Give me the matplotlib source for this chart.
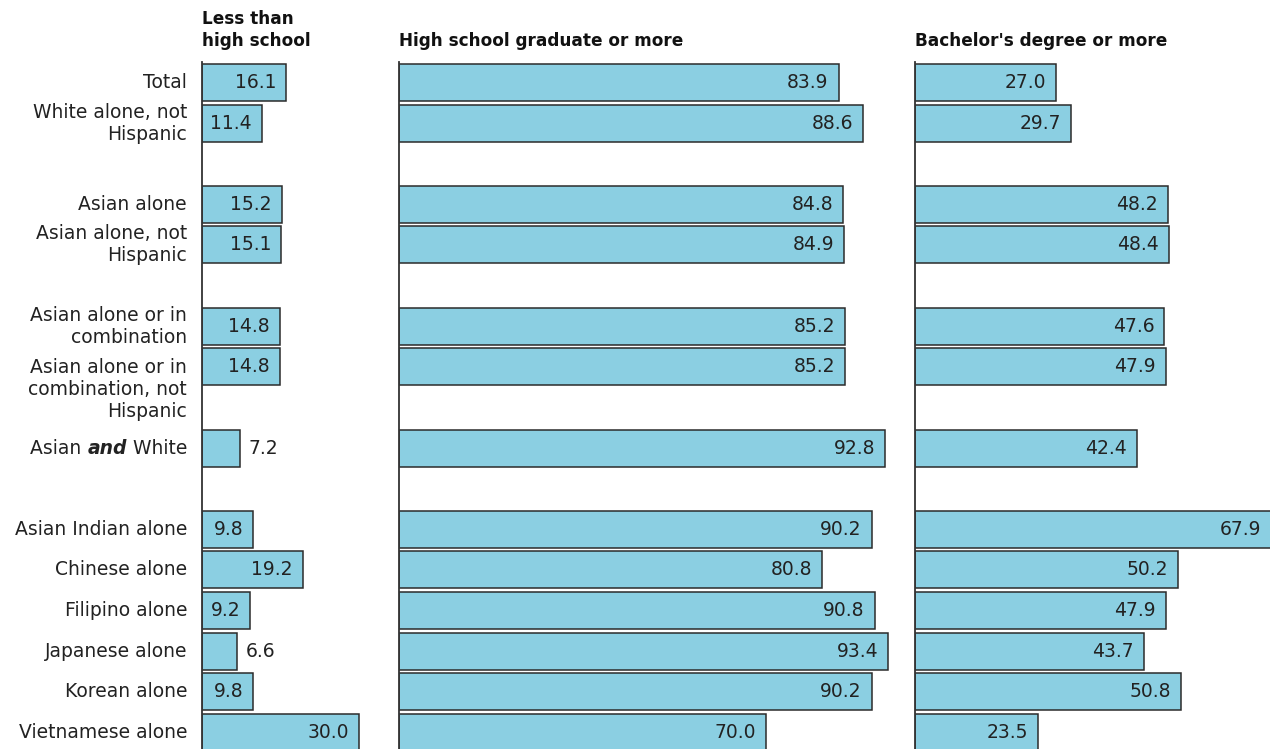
import matplotlib
matplotlib.use("Agg")
import matplotlib.pyplot as plt
from matplotlib.offsetbox import TextArea, HPacker, AnnotationBbox

categories = ["Total", "White alone, not\nHispanic", "Asian alone", "Asian alone, not\nHispanic",
              "Asian alone or in\ncombination", "Asian alone or in\ncombination, not\nHispanic",
              "Asian and White", "Asian Indian alone", "Chinese alone", "Filipino alone",
              "Japanese alone", "Korean alone", "Vietnamese alone"]
rows = [0, 1, 3, 4, 6, 7, 9, 11, 12, 13, 14, 15, 16]
less_than_hs = [16.1, 11.4, 15.2, 15.1, 14.8, 14.8, 7.2, 9.8, 19.2, 9.2, 6.6, 9.8, 30.0]
hs_or_more = [83.9, 88.6, 84.8, 84.9, 85.2, 85.2, 92.8, 90.2, 80.8, 90.8, 93.4, 90.2, 70.0]
ba_or_more = [27.0, 29.7, 48.2, 48.4, 47.6, 47.9, 42.4, 67.9, 50.2, 47.9, 43.7, 50.8, 23.5]
headers = ["Less than\nhigh school", "High school graduate or more", "Bachelor's degree or more"]

W, H = 1270, 749
fig = plt.figure(figsize=(W / 100, H / 100), dpi=100)
plt.rcParams['font.family'] = ['DejaVu Sans']

BAR = '#8BCFE2'
EDGE = '#2b2b2b'
PXU = 5.24          # pixels per percentage unit
top_px, bot_px = 62, 749
ylim_top, ylim_bot = -0.505, 16.41

panels = [(202, 390, less_than_hs), (399, 905, hs_or_more), (915, 1270, ba_or_more)]
axes = []
for (x0, x1, vals), head in zip(panels, headers):
    ax = fig.add_axes([x0 / W, 1 - bot_px / H, (x1 - x0) / W, (bot_px - top_px) / H])
    ax.set_xlim(0, (x1 - x0) / PXU)
    ax.set_ylim(ylim_bot, ylim_top)
    ax.barh(rows, vals, height=0.91, color=BAR, edgecolor=EDGE, linewidth=1.1, clip_on=True)
    for r, v in zip(rows, vals):
        if v < 8:
            ax.annotate(f"{v:.1f}", (v, r), xytext=(9, 0), textcoords='offset pixels',
                        ha='left', va='center', fontsize=13.5, color='#222222',
                        annotation_clip=False)
        else:
            ax.annotate(f"{v:.1f}", (v, r), xytext=(-10, 0), textcoords='offset pixels',
                        ha='right', va='center', fontsize=13.5, color='#222222',
                        annotation_clip=False)
    for s in ['top', 'right', 'bottom']:
        ax.spines[s].set_visible(False)
    ax.spines['left'].set_color('#333333')
    ax.spines['left'].set_linewidth(1.3)
    ax.set_xticks([])
    ax.set_yticks([])
    fig.text(x0 / W, 1 - 46 / H, head, ha='left', va='baseline', fontsize=12.2,
             fontweight='bold', color='#111111', linespacing=1.3)
    axes.append(ax)

ax0 = axes[0]
for cat, r in zip(categories, rows):
    if cat == "Asian and White":
        tp = dict(fontsize=13.5, color='#222222')
        pack = HPacker(children=[TextArea("Asian ", textprops=tp),
                                 TextArea("and", textprops=dict(tp, fontweight='bold', fontstyle='italic')),
                                 TextArea(" White", textprops=tp)],
                       align='baseline', pad=0, sep=0)
        ab = AnnotationBbox(pack, (0, r), xycoords=('axes fraction', 'data'),
                            xybox=(-15, 0), boxcoords='offset pixels',
                            box_alignment=(1, 0.5), frameon=False, annotation_clip=False)
        ax0.add_artist(ab)
        continue
    nlines = cat.count("\n") + 1
    dy = -23 if nlines == 3 else 0
    ax0.annotate(cat, (0, r), xycoords=('axes fraction', 'data'), xytext=(-15, dy),
                 textcoords='offset pixels', ha='right', va='center', fontsize=13.5,
                 color='#222222', linespacing=1.2, annotation_clip=False)

fig.savefig("out.png", dpi=100)
